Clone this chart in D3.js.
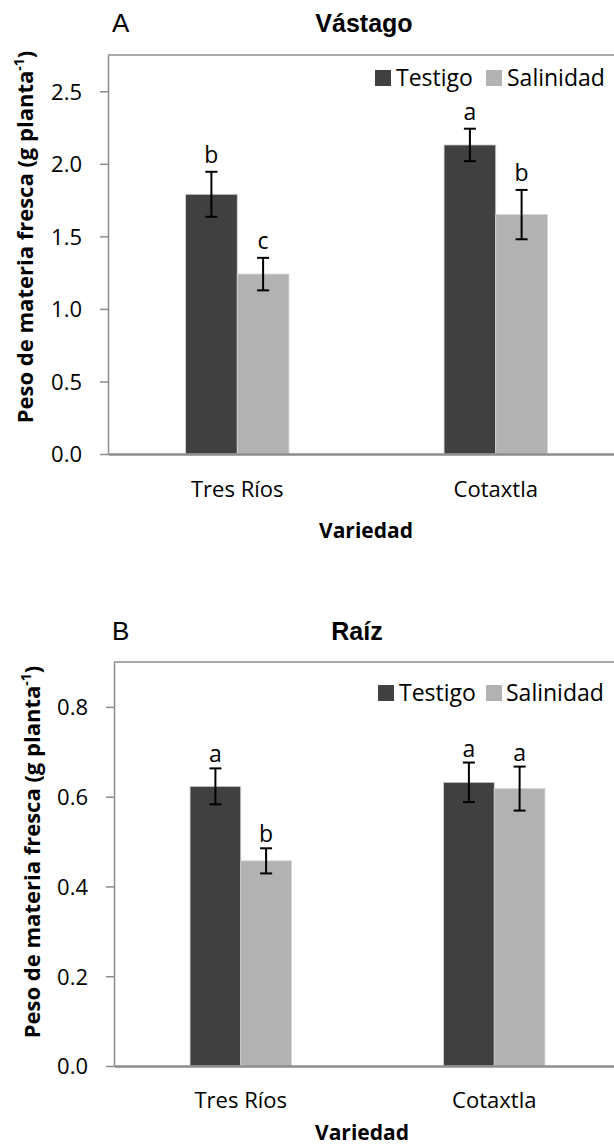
<!DOCTYPE html>
<html>
<head>
<meta charset="utf-8">
<script src="https://cdn.jsdelivr.net/npm/d3@7"></script>
<style>
  html, body { margin: 0; padding: 0; background: #ffffff; }
  svg { display: block; }
</style>
</head>
<body>
<svg id="chart" width="614" height="1147"></svg>
<script>
// Varieties and treatments
const categories = ["Tres Ríos", "Cotaxtla"];
const series = ["Testigo", "Salinidad"];
const seriesColors = ["#404040", "#b2b2b2"];

// Panel A: shoot fresh weight (g planta-1)
const shootTestigo = [1.79, 2.13];
const shootSalinidad = [1.24, 1.65];
const shootTestigoErr = [0.155, 0.112];
const shootSalinidadErr = [0.112, 0.17];
const shootTestigoLetters = ["b", "a"];
const shootSalinidadLetters = ["c", "b"];
const shootTicks = [0, 0.5, 1.0, 1.5, 2.0, 2.5];

// Panel B: root fresh weight (g planta-1)
const rootTestigo = [0.623, 0.632];
const rootSalinidad = [0.457, 0.618];
const rootTestigoErr = [0.04, 0.044];
const rootSalinidadErr = [0.028, 0.049];
const rootTestigoLetters = ["a", "a"];
const rootSalinidadLetters = ["b", "a"];
const rootTicks = [0, 0.2, 0.4, 0.6, 0.8];

const svg = d3.select("#chart");
const axisGray = "#8c8c8c";
const bodyFont = "'Open Sans', sans-serif";
const titleFont = "'Liberation Sans', Arial, sans-serif";

function drawPanel(cfg) {
  const g = svg.append("g");
  const rows = categories.map((c, i) => ({
    cat: c,
    vals: [
      { s: series[0], v: cfg.testigo[i], e: cfg.testigoErr[i], l: cfg.testigoLetters[i] },
      { s: series[1], v: cfg.salinidad[i], e: cfg.salinidadErr[i], l: cfg.salinidadLetters[i] }
    ]
  }));

  const x0 = d3.scaleBand().domain(categories).range([cfg.left, cfg.right])
    .paddingInner(0.6).paddingOuter(0.3);
  const x1 = d3.scaleBand().domain(series).range([0, x0.bandwidth()]);
  const color = d3.scaleOrdinal().domain(series).range(seriesColors);
  const y = d3.scaleLinear().domain([0, cfg.yMax]).range([cfg.bottom, cfg.top]);

  // panel letter and title
  g.append("text").attr("x", 112).attr("y", cfg.titleY)
    .attr("font-family", titleFont).attr("font-size", 26).attr("fill", "#000")
    .text(cfg.letter);
  g.append("text").attr("x", cfg.titleX).attr("y", cfg.titleY)
    .attr("text-anchor", "middle")
    .attr("font-family", titleFont).attr("font-size", 25).attr("font-weight", "bold")
    .attr("fill", "#000").text(cfg.title);

  // top frame line
  g.append("line").attr("x1", cfg.left).attr("x2", cfg.right + 20)
    .attr("y1", cfg.top).attr("y2", cfg.top)
    .attr("stroke", axisGray).attr("stroke-width", 1.5);

  // y axis
  const yAxis = d3.axisLeft(y).tickValues(cfg.ticks).tickFormat(d3.format(".1f"))
    .tickSizeInner(8).tickSizeOuter(0).tickPadding(18);
  const ya = g.append("g").attr("transform", `translate(${cfg.left},0)`).call(yAxis);
  ya.select(".domain").attr("stroke", axisGray).attr("stroke-width", 1.5);
  ya.selectAll(".tick line").attr("stroke", axisGray).attr("stroke-width", 1.5);
  ya.selectAll(".tick text").attr("font-family", bodyFont).attr("font-size", 22)
    .attr("fill", "#000").attr("dy", "0.36em");

  // bars
  const groups = g.selectAll(".grp").data(rows).enter().append("g")
    .attr("transform", d => `translate(${x0(d.cat)},0)`);
  groups.selectAll("rect").data(d => d.vals).enter().append("rect")
    .attr("x", d => x1(d.s))
    .attr("width", x1.bandwidth())
    .attr("y", d => y(d.v))
    .attr("height", d => y(0) - y(d.v))
    .attr("fill", d => color(d.s))
    .attr("stroke", "#d4d4d4").attr("stroke-width", 0.8);

  // error bars
  const eb = groups.selectAll(".err").data(d => d.vals).enter().append("g");
  const cx = d => x1(d.s) + x1.bandwidth() / 2;
  eb.append("line").attr("x1", cx).attr("x2", cx)
    .attr("y1", d => y(d.v + d.e)).attr("y2", d => y(d.v - d.e))
    .attr("stroke", "#000").attr("stroke-width", 2);
  eb.append("line").attr("x1", d => cx(d) - 6).attr("x2", d => cx(d) + 6)
    .attr("y1", d => y(d.v + d.e)).attr("y2", d => y(d.v + d.e))
    .attr("stroke", "#000").attr("stroke-width", 2);
  eb.append("line").attr("x1", d => cx(d) - 6).attr("x2", d => cx(d) + 6)
    .attr("y1", d => y(d.v - d.e)).attr("y2", d => y(d.v - d.e))
    .attr("stroke", "#000").attr("stroke-width", 2);

  // significance letters
  eb.append("text").attr("x", cx).attr("y", d => y(d.v + d.e) - cfg.letterGap)
    .attr("text-anchor", "middle").attr("font-family", bodyFont)
    .attr("font-size", 23).attr("fill", "#000").text(d => d.l);

  // x axis
  const xAxis = d3.axisBottom(x0).tickSize(0).tickPadding(0);
  const xa = g.append("g").attr("transform", `translate(0,${cfg.bottom})`).call(xAxis);
  xa.select(".domain").attr("stroke", axisGray).attr("stroke-width", 2.5);
  xa.selectAll(".tick text").attr("font-family", bodyFont).attr("font-size", 22)
    .attr("fill", "#000").attr("y", cfg.catDy).attr("dy", 0);

  // axis titles
  g.append("text").attr("x", cfg.xTitleX).attr("y", cfg.xTitleY)
    .attr("text-anchor", "middle").attr("font-family", bodyFont)
    .attr("font-size", 21).attr("font-weight", "bold").attr("fill", "#000")
    .text("Variedad");

  const yt = g.append("text")
    .attr("transform", `translate(${cfg.yTitleX},${cfg.yTitleY}) rotate(-90)`)
    .attr("text-anchor", "middle").attr("font-family", bodyFont)
    .attr("font-size", 22).attr("font-weight", "bold").attr("fill", "#000");
  yt.append("tspan").text("Peso de materia fresca (g planta");
  yt.append("tspan").attr("font-size", 14).attr("dy", -9).text("-1");
  yt.append("tspan").attr("dy", 9).text(")");

  // legend
  const lg = g.append("g");
  const legItems = [
    { s: series[0], sq: cfg.legX[0], tx: cfg.legX[1] },
    { s: series[1], sq: cfg.legX[2], tx: cfg.legX[3] }
  ];
  legItems.forEach(it => {
    lg.append("rect").attr("x", it.sq).attr("y", cfg.legY - 16)
      .attr("width", 16).attr("height", 16).attr("fill", color(it.s));
    lg.append("text").attr("x", it.tx).attr("y", cfg.legY)
      .attr("font-family", bodyFont).attr("font-size", 23).attr("fill", "#000")
      .text(it.s);
  });
}

drawPanel({
  letter: "A", title: "Vástago", titleX: 364, titleY: 32,
  left: 108, right: 625, top: 55, bottom: 454, yMax: 2.75,
  ticks: shootTicks,
  testigo: shootTestigo, salinidad: shootSalinidad,
  testigoErr: shootTestigoErr, salinidadErr: shootSalinidadErr,
  testigoLetters: shootTestigoLetters, salinidadLetters: shootSalinidadLetters,
  letterGap: 9, catDy: 43,
  xTitleX: 366, xTitleY: 538,
  yTitleX: 33, yTitleY: 237,
  legX: [375, 396, 486, 507], legY: 86
});

drawPanel({
  letter: "B", title: "Raíz", titleX: 357, titleY: 640,
  left: 114, right: 621, top: 662, bottom: 1066, yMax: 0.9,
  ticks: rootTicks,
  testigo: rootTestigo, salinidad: rootSalinidad,
  testigoErr: rootTestigoErr, salinidadErr: rootSalinidadErr,
  testigoLetters: rootTestigoLetters, salinidadLetters: rootSalinidadLetters,
  letterGap: 6, catDy: 42,
  xTitleX: 362, xTitleY: 1140,
  yTitleX: 40, yTitleY: 852,
  legX: [378, 399, 486, 506], legY: 701
});
</script>
</body>
</html>
